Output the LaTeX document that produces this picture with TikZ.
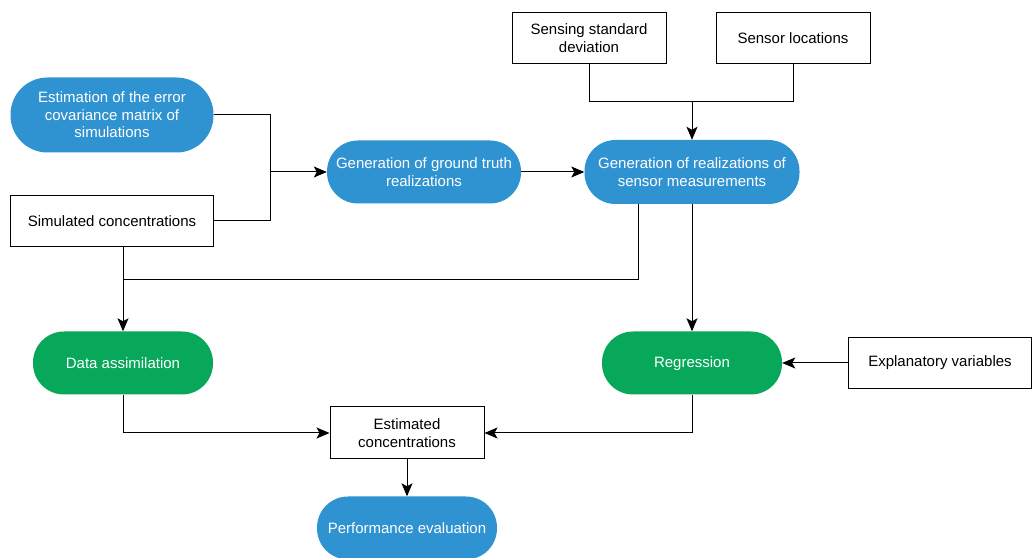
\documentclass[tikz,border=0pt]{standalone}
\usepackage{fontspec}
\setsansfont{Liberation Sans}
\usetikzlibrary{positioning,arrows.meta}

\definecolor{procblue}{RGB}{48,147,209}
\definecolor{fitgreen}{RGB}{8,168,90}

\begin{document}
\begin{tikzpicture}[x=1pt,y=1pt,
    proc/.style={rectangle,rounded corners=31pt,fill=procblue,text=white,
		font=\sffamily\fontsize{15}{17.5}\selectfont,align=center,
		minimum width=194pt,minimum height=63pt,inner sep=1pt},
    fit/.style={proc,fill=fitgreen,minimum width=180pt},
    data/.style={rectangle,draw,line width=1pt,font=\sffamily\fontsize{15}{17.5}\selectfont,
		align=center,minimum width=154pt,minimum height=51pt,inner sep=1pt},
    link/.style={line width=1pt},
    >={Stealth[length=13pt,width=11pt,inset=3pt]}
    ]
    \useasboundingbox (0,0) rectangle (1036,557);
   \begin{scope}[node distance=100pt,on grid]

    % Place nodes
    \node [proc,minimum width=203pt,minimum height=75pt,rounded corners=37pt] (est) at (112,442)
		{Estimation of the error\\covariance matrix of\\simulations};
    \node [data,below=106pt of est,minimum width=203pt] (sim) {Simulated concentrations};
    \node [proc] (gt) at (424,385) {Generation of ground truth\\realizations};
    \node [proc,right=268pt of gt,minimum width=215pt,minimum height=64pt] (gs)
		{Generation of realizations of\\sensor measurements};
    \node [data] (sens) at (589,519) {Sensing standard\\deviation};
    \node [data,right=204pt of sens] (loc) {Sensor locations};

    \node [fit] (da) at (123,194) {Data assimilation};
    \node [fit,below=191pt of gs,text depth=1pt] (reg) {Regression};
    \node [data,right=248pt of reg,minimum width=183pt] (expl) {Explanatory variables};
    \node [data,minimum height=52pt] (estc) at (407,124) {Estimated\\concentrations};
    \node [proc,below=95pt of estc,minimum width=180pt] (perf) {Performance evaluation};

    \coordinate (gt_in) at (270,385);
    \coordinate (gs_in) at (692,455);
    \coordinate (gs_leg) at (638,277);
    \coordinate (da_in) at (123,277);

    % Draw edges
    \draw [link] (est.east) -| (gt_in);
    \draw [link] (sim.east) -| (gt_in);
    \draw [link,->] (gt_in) -- (gt.west);
    \draw [link,->] (gt) -- (gs);
    \draw [link] (sens.south) |- (gs_in);
    \draw [link] (loc.south) |- (gs_in);
    \draw [link,->] (gs_in) -- (gs.north);
    \draw [link] (gs_leg |- gs.south) -- (gs_leg) -- (da_in);
    \draw [link,->] (sim.south -| da.north) -- (da.north);
    \draw [link,->] (gs) -- (reg);
    \draw [link,->] (expl) -- (reg);
    \draw [link,->] (da.south) |- (estc.west);
    \draw [link,->] (reg.south) |- (estc.east);
    \draw [link,->] (estc) -- (perf);

\end{scope}
\end{tikzpicture}
\end{document}
